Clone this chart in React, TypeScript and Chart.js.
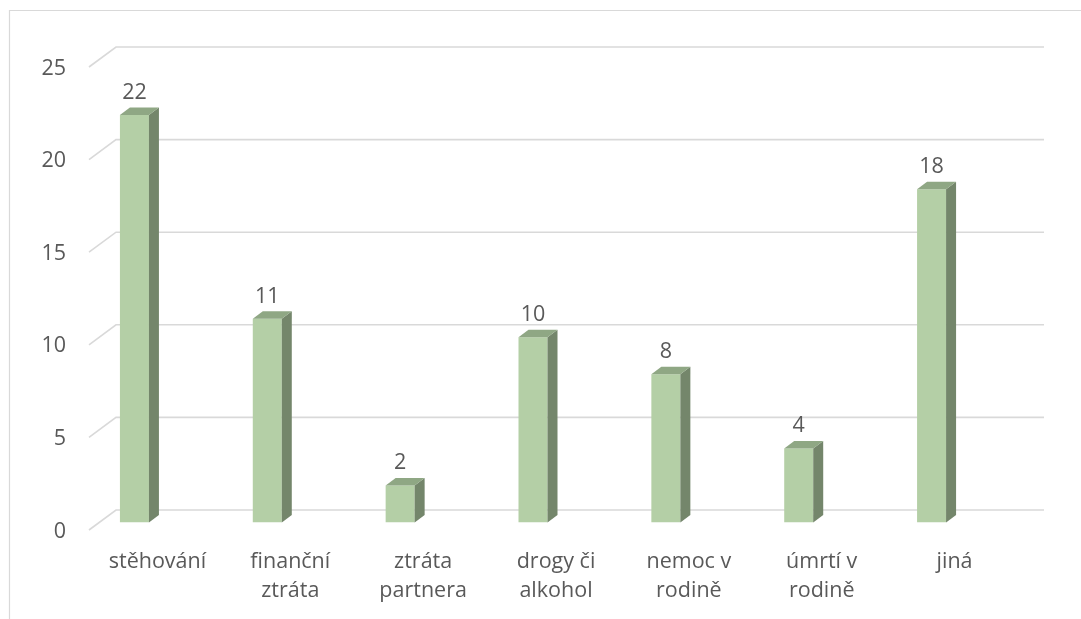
import React, { useEffect, useRef } from "react";
import { Chart, registerables } from "chart.js";

Chart.register(...registerables);

const categories: string[][] = [
  ["stěhování"],
  ["finanční", "ztráta"],
  ["ztráta", "partnera"],
  ["drogy či", "alkohol"],
  ["nemoc v", "rodině"],
  ["úmrtí v", "rodině"],
  ["jiná"],
];
const values: number[] = [22, 11, 2, 10, 8, 4, 18];
const yTicks: number[] = [0, 5, 10, 15, 20, 25];

const FONT = "'Open Sans', 'Liberation Sans', sans-serif";
const TEXT = "#595959";
const GRID = "#d9d9d9";
const FRONT = "#b4cfa6";
const SIDE = "#74866b";
const TOP = "#8fa784";
const DX = 10;
const DY = 7.5;

const decorPlugin = {
  id: "decor",
  beforeDraw(chart: any) {
    const ctx = chart.ctx;
    ctx.save();
    ctx.fillStyle = "#ffffff";
    ctx.fillRect(0, 0, chart.width, chart.height);
    ctx.strokeStyle = GRID;
    ctx.lineWidth = 1.2;
    ctx.beginPath();
    ctx.moveTo(9.5, chart.height);
    ctx.lineTo(9.5, 10.5);
    ctx.lineTo(chart.width, 10.5);
    ctx.stroke();
    ctx.restore();
  },
  beforeDatasetsDraw(chart: any) {
    const ctx = chart.ctx;
    const y = chart.scales.y;
    const area = chart.chartArea;
    const backLeft = area.left + 48;
    const backRight = area.right + 46;
    const frontLeft = area.left + 21;
    ctx.save();
    ctx.strokeStyle = GRID;
    ctx.lineWidth = 1.6;
    yTicks.forEach((v) => {
      const py = y.getPixelForValue(v);
      ctx.beginPath();
      ctx.moveTo(frontLeft, py + 7.5);
      ctx.lineTo(backLeft, py - 12.5);
      ctx.lineTo(backRight, py - 12.5);
      ctx.stroke();
    });
    ctx.restore();
  },
  afterDatasetsDraw(chart: any) {
    const ctx = chart.ctx;
    const meta = chart.getDatasetMeta(0);
    ctx.save();
    meta.data.forEach((bar: any, i: number) => {
      const { x, y, base, width } = bar.getProps(["x", "y", "base", "width"], true);
      const l = x - width / 2;
      const r = x + width / 2;
      ctx.fillStyle = SIDE;
      ctx.beginPath();
      ctx.moveTo(r, y);
      ctx.lineTo(r + DX, y - DY);
      ctx.lineTo(r + DX, base - DY);
      ctx.lineTo(r, base);
      ctx.closePath();
      ctx.fill();
      ctx.fillStyle = TOP;
      ctx.beginPath();
      ctx.moveTo(l, y);
      ctx.lineTo(l + DX, y - DY);
      ctx.lineTo(r + DX, y - DY);
      ctx.lineTo(r, y);
      ctx.closePath();
      ctx.fill();
      ctx.fillStyle = TEXT;
      ctx.font = `21.5px ${FONT}`;
      ctx.textAlign = "center";
      ctx.textBaseline = "alphabetic";
      ctx.fillText(String(values[i]), x, y - 16);
    });
    ctx.restore();
  },
};

export default function App() {
  const ref = useRef<HTMLCanvasElement | null>(null);
  useEffect(() => {
    if (!ref.current) return;
    const chart = new Chart(ref.current, {
      type: "bar",
      data: {
        labels: categories,
        datasets: [
          {
            data: values,
            backgroundColor: FRONT,
            borderWidth: 0,
            barPercentage: 0.2183,
            categoryPercentage: 1,
          },
        ],
      },
      options: {
        animation: false,
        responsive: true,
        maintainAspectRatio: false,
        layout: { padding: { left: 0, top: 59.5, right: 83, bottom: 0 } },
        plugins: {
          legend: { display: false },
          tooltip: { enabled: false },
          title: { display: false },
        },
        scales: {
          x: {
            offset: true,
            grid: { display: false, drawTicks: false },
            border: { display: false },
            ticks: {
              autoSkip: false,
              maxRotation: 0,
              minRotation: 0,
              padding: 25,
              labelOffset: 23,
              color: TEXT,
              font: { family: FONT, size: 21.5, lineHeight: "29px" },
            },
            afterFit(scale: any) {
              scale.height = 96.5;
            },
          },
          y: {
            min: 0,
            max: 25,
            grid: { display: false, drawTicks: false },
            border: { display: false },
            ticks: {
              stepSize: 5,
              padding: 2,
              labelOffset: 9,
              color: TEXT,
              font: { family: FONT, size: 21.5 },
            },
            afterFit(scale: any) {
              scale.width = 68;
            },
          },
        },
      },
      plugins: [decorPlugin],
    });
    return () => chart.destroy();
  }, []);
  return (
    <div style={{ position: "absolute", left: 0, top: 0, width: 1081, height: 619 }}>
      <canvas ref={ref} />
    </div>
  );
}
